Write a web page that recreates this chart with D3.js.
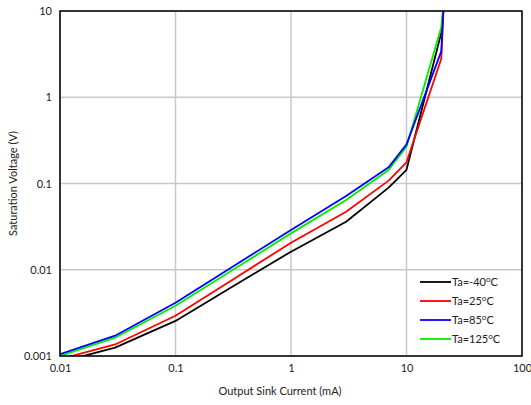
<!DOCTYPE html>
<html>
<head>
<meta charset="utf-8">
<script src="https://cdn.jsdelivr.net/npm/d3@7"></script>
<style>
  body { margin: 0; background: #fff; }
  text { font-family: Lato, "Open Sans", sans-serif; fill: #222; }
</style>
</head>
<body>
<div id="chart"></div>
<script>
// values
const current = [0.01, 0.03, 0.1, 0.3, 1, 3, 7, 10, 20, 21];
const vM40  = [0.00085, 0.00125, 0.00255, 0.0062, 0.0162, 0.036, 0.0895, 0.144, 5.6, 12];
const v25   = [0.00092, 0.00136, 0.00293, 0.0074, 0.0206, 0.047, 0.108, 0.176, 2.8, 12];
const v85   = [0.00105, 0.00172, 0.00415, 0.0105, 0.0289, 0.0716, 0.154, 0.284, 3.4, 12];
const v125  = [0.00100, 0.00163, 0.00383, 0.0096, 0.0264, 0.0645, 0.1435, 0.267, 6.5, 12];
const seriesNames = ["Ta=-40", "Ta=25", "Ta=85", "Ta=125"];
const seriesCols = ["#000000", "#ff0000", "#0000ff", "#00ee00"];
const xTicks = [0.01, 0.1, 1, 10, 100];
const yTicks = [0.001, 0.01, 0.1, 1, 10];

const width = 531, height = 405;
const padding = {top: 11, right: 9, bottom: 49, left: 60};

const svg = d3.select("#chart").append("svg")
  .attr("width", width).attr("height", height);

const x = d3.scaleLog().domain([0.01, 100]).range([padding.left, width - padding.right]);
const y = d3.scaleLog().domain([0.001, 10]).range([height - padding.bottom, padding.top]);

// grid
svg.append("g")
  .selectAll("line.gx")
  .data(xTicks)
  .join("line")
    .attr("x1", d => x(d)).attr("x2", d => x(d))
    .attr("y1", y(0.001)).attr("y2", y(10))
    .attr("stroke", "#c8c8c8").attr("stroke-width", 1.5);
svg.append("g")
  .selectAll("line.gy")
  .data(yTicks)
  .join("line")
    .attr("y1", d => y(d)).attr("y2", d => y(d))
    .attr("x1", x(0.01)).attr("x2", x(100))
    .attr("stroke", "#c8c8c8").attr("stroke-width", 1.5);

// axes (labels only, frame drawn separately)
const xAxis = d3.axisBottom(x).tickValues(xTicks).tickFormat(d => String(d)).tickSize(0).tickPadding(8);
svg.append("g")
  .attr("class", "axis x")
  .attr("transform", "translate(0," + (height - padding.bottom) + ")")
  .call(xAxis)
  .call(g => g.select(".domain").remove())
  .selectAll("text").style("font-size", "11px").attr("fill", "#222");

const yAxis = d3.axisLeft(y).tickValues(yTicks).tickFormat(d => String(d)).tickSize(0).tickPadding(8);
svg.append("g")
  .attr("class", "axis y")
  .attr("transform", "translate(" + padding.left + ",0)")
  .call(yAxis)
  .call(g => g.select(".domain").remove())
  .selectAll("text").style("font-size", "11px").attr("fill", "#222");

svg.append("clipPath").attr("id", "plotclip")
  .append("rect")
    .attr("x", x(0.01)).attr("y", y(10))
    .attr("width", x(100) - x(0.01)).attr("height", y(0.001) - y(10));

// draw order: black, red, green, blue (blue on top as in the reference)
const drawOrder = [0, 1, 3, 2];
const allSeries = [vM40, v25, v85, v125];
const line = d3.line()
  .x(d => x(d[0]))
  .y(d => y(d[1]));

svg.append("g")
  .attr("clip-path", "url(#plotclip)")
  .selectAll("path")
  .data(drawOrder)
  .join("path")
    .attr("fill", "none")
    .attr("stroke", i => seriesCols[i])
    .attr("stroke-width", 1.8)
    .attr("stroke-linejoin", "round")
    .attr("d", i => line(current.map((c, j) => [c, allSeries[i][j]])));

// frame
svg.append("rect")
  .attr("x", x(0.01)).attr("y", y(10))
  .attr("width", x(100) - x(0.01)).attr("height", y(0.001) - y(10))
  .attr("fill", "none").attr("stroke", "#000").attr("stroke-width", 1.5);

// legend
const legend = svg.append("g").attr("transform", "translate(420,282)");
seriesNames.forEach(function(n, i) {
  const g = legend.append("g").attr("transform", "translate(0," + (i * 19) + ")");
  g.append("line").attr("x1", 0).attr("x2", 31).attr("y1", 0).attr("y2", 0)
    .attr("stroke", seriesCols[i]).attr("stroke-width", 1.8);
  const t = g.append("text").attr("x", 32).attr("y", 4).style("font-size", "11px");
  t.append("tspan").text(n);
  t.append("tspan").attr("dy", -4).style("font-size", "8px").text("o");
  t.append("tspan").attr("dy", 4).text("C");
});

// axis titles
svg.append("text")
  .attr("x", 280).attr("y", 395)
  .attr("text-anchor", "middle")
  .style("font-size", "11px")
  .text("Output Sink Current (mA)");

svg.append("text")
  .attr("transform", "translate(17," + ((y(10) + y(0.001)) / 2) + ") rotate(-90)")
  .attr("text-anchor", "middle")
  .style("font-size", "11px")
  .text("Saturation Voltage (V)");
</script>
</body>
</html>
